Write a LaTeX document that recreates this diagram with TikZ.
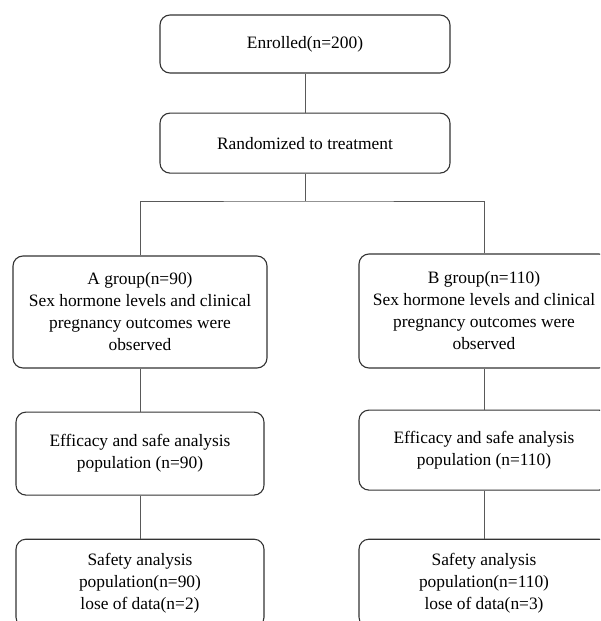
\documentclass[tikz,border=0pt]{standalone}
\usepackage{fontspec}
\setmainfont{Liberation Serif}
\usepackage{tikz}
\usetikzlibrary{positioning}

\begin{document}
\begin{tikzpicture}[-, x=1pt, y=-1pt, line width=0.5pt,
	box/.style={draw=black!80, line width=1.1pt, rounded corners=10pt, align=center, inner sep=0pt, font=\fontsize{17.4}{22}\selectfont},
	link/.style={draw=black!65, line width=0.8pt}]
	\useasboundingbox (0,0) rectangle (600,621);
	\clip (0,0) rectangle (600,621);

	\node [box, minimum width=290pt, minimum height=58pt] (enrol) at (305,44) {Enrolled(n=200)};
	\node [box, minimum width=290pt, minimum height=60pt] (rand) [below=39pt of enrol] {Randomized to treatment};
	\coordinate (split) at (305,201);

	\node [box, minimum width=254pt, minimum height=112pt] (groupA) at (140,312) {A group(n=90)\\Sex hormone levels and clinical\\pregnancy outcomes were\\observed};
	\node [box, minimum width=248pt, minimum height=83pt] (effA) [below=43pt of groupA] {Efficacy and safe analysis\\population (n=90)};
	\node [box, minimum width=248pt, minimum height=88pt] (safA) [below=43pt of effA] {Safety analysis\\population(n=90)\\lose of data(n=2)};

	\node [box, minimum width=250pt, minimum height=114pt] (groupB) at (484,311) {B group(n=110)\\Sex hormone levels and clinical\\pregnancy outcomes were\\observed};
	\node [box, minimum width=250pt, minimum height=80pt] (effB) [below=41pt of groupB] {Efficacy and safe analysis\\population (n=110)};
	\node [box, minimum width=250pt, minimum height=88pt] (safB) [below=48pt of effB] {Safety analysis\\population(n=110)\\lose of data(n=3)};

	\path [link] (enrol) -- (rand);
	\path [link] (rand) -- (split);
	\path [link] (groupA) |- (split) -| (groupB);
	\path [link] (groupA) -- (effA);
	\path [link] (effA) -- (safA);
	\path [link] (groupB) -- (effB);
	\path [link] (effB) -- (safB);
\end{tikzpicture}
\end{document}
